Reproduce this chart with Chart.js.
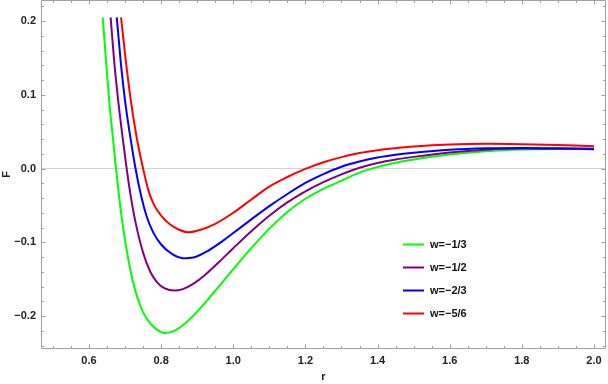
<!DOCTYPE html>
<html>
<head>
<meta charset="utf-8">
<script src="https://cdn.jsdelivr.net/npm/chart.js@4.4.1/dist/chart.umd.min.js"></script>
<style>
  html, body { margin: 0; padding: 0; background: #ffffff; }
  #wrap { width: 608px; height: 384px; }
</style>
</head>
<body>
<div id="wrap"><canvas id="c" width="608" height="384"></canvas></div>
<script>
// ---- data ----
const seriesLabels = ["w=\u22121/3", "w=\u22121/2", "w=\u22122/3", "w=\u22125/6"];
const seriesColors = ["#00ff00", "#800080", "#0000ff", "#ff0000"];

const rGreen = [0.638, 0.647, 0.656, 0.666, 0.675, 0.684, 0.694, 0.705, 0.718, 0.733, 0.750, 0.770, 0.790, 0.811, 0.830, 0.852, 0.875, 0.900, 0.930, 0.960, 1.000, 1.050, 1.100, 1.150, 1.200, 1.250, 1.300, 1.350, 1.400, 1.450, 1.500, 1.600, 1.700, 1.800, 1.900, 2.000];
const fGreen = [0.205, 0.148, 0.092, 0.043, 0.0, -0.040, -0.078, -0.112, -0.145, -0.173, -0.195, -0.210, -0.219, -0.223, -0.2215, -0.2155, -0.2063, -0.194, -0.1775, -0.160, -0.1365, -0.108, -0.0815, -0.059, -0.041, -0.0275, -0.0165, -0.0055, 0.002, 0.0078, 0.0123, 0.0190, 0.0235, 0.0258, 0.0265, 0.0262];

const rPurple = [0.660, 0.670, 0.681, 0.693, 0.7045, 0.716, 0.730, 0.750, 0.770, 0.790, 0.810, 0.836, 0.860, 0.890, 0.920, 0.960, 1.000, 1.050, 1.100, 1.150, 1.200, 1.250, 1.300, 1.350, 1.400, 1.450, 1.500, 1.600, 1.700, 1.800, 1.900, 2.000];
const fPurple = [0.205, 0.145, 0.092, 0.043, 0.0, -0.038, -0.075, -0.114, -0.140, -0.155, -0.1625, -0.1655, -0.1635, -0.156, -0.145, -0.127, -0.108, -0.085, -0.064, -0.046, -0.031, -0.0185, -0.008, 0.001, 0.0075, 0.0122, 0.0158, 0.0218, 0.0255, 0.0270, 0.0268, 0.0262];

const rBlue = [0.677, 0.688, 0.700, 0.714, 0.729, 0.745, 0.760, 0.778, 0.800, 0.830, 0.860, 0.890, 0.930, 0.970, 1.000, 1.050, 1.100, 1.150, 1.200, 1.250, 1.300, 1.350, 1.400, 1.450, 1.500, 1.600, 1.700, 1.800, 1.900, 2.000];
const fBlue = [0.205, 0.145, 0.092, 0.0445, 0.0, -0.038, -0.065, -0.0866, -0.103, -0.1158, -0.1215, -0.1205, -0.1115, -0.0985, -0.0875, -0.069, -0.051, -0.0345, -0.0195, -0.0075, 0.0025, 0.0095, 0.015, 0.0188, 0.0215, 0.0255, 0.0275, 0.0280, 0.0275, 0.0267];

const rRed = [0.689, 0.700, 0.716, 0.733, 0.750, 0.765, 0.780, 0.800, 0.825, 0.850, 0.875, 0.910, 0.950, 1.000, 1.050, 1.100, 1.150, 1.200, 1.250, 1.300, 1.350, 1.400, 1.450, 1.500, 1.600, 1.700, 1.800, 1.900, 2.000];
const fRed = [0.205, 0.155, 0.092, 0.040, 0.0, -0.030, -0.049, -0.064, -0.076, -0.083, -0.0864, -0.083, -0.075, -0.060, -0.042, -0.0245, -0.0115, -0.0005, 0.0085, 0.0155, 0.021, 0.0248, 0.0275, 0.0297, 0.0325, 0.0335, 0.0330, 0.0320, 0.0303];

const xTicks = [0.6, 0.8, 1.0, 1.2, 1.4, 1.6, 1.8, 2.0];
const xTickLabels = ["0.6", "0.8", "1.0", "1.2", "1.4", "1.6", "1.8", "2.0"];
const yTicks = [-0.2, -0.1, 0.0, 0.1, 0.2];
const yTickLabels = ["\u22120.2", "\u22120.1", "0.0", "0.1", "0.2"];

// ---- build datasets ----
const rArrays = [rGreen, rPurple, rBlue, rRed];
const fArrays = [fGreen, fPurple, fBlue, fRed];
const datasets = rArrays.map((rs, i) => ({
  label: seriesLabels[i],
  data: rs.map((r, j) => ({ x: r, y: fArrays[i][j] })),
  borderColor: seriesColors[i],
  backgroundColor: seriesColors[i],
  borderWidth: 2,
  pointRadius: 0,
  showLine: true,
  fill: false,
  cubicInterpolationMode: 'monotone',
  order: 4 - i
}));

const FONT = '"Liberation Sans", Arial, sans-serif';
const FRAME = '#a0a0a0';

const frameTicks = {
  id: 'frameTicks',
  afterDatasetsDraw(chart) {
    const { ctx, chartArea: a, scales: { x, y } } = chart;
    ctx.save();
    ctx.strokeStyle = FRAME;
    ctx.lineWidth = 1;
    const L = Math.round(a.left) + 0.5, R = Math.round(a.right) - 0.5;
    const T = Math.round(a.top) + 0.5, B = Math.round(a.bottom) - 0.5;
    ctx.beginPath();
    ctx.rect(L, T, R - L, B - T);
    ctx.stroke();
    ctx.beginPath();
    for (let k = 9; k <= 41; k++) {
      const v = k * 0.05;
      const px = Math.round(x.getPixelForValue(v)) + 0.5;
      if (px <= L || px >= R) continue;
      const len = (k % 4 === 0) ? 4 : 2.5;
      ctx.moveTo(px, B); ctx.lineTo(px, B - len);
      ctx.moveTo(px, T); ctx.lineTo(px, T + len);
    }
    for (let k = -12; k <= 12; k++) {
      const v = k * 0.02;
      const py = Math.round(y.getPixelForValue(v)) + 0.5;
      if (py <= T || py >= B) continue;
      const len = (k % 5 === 0) ? 4 : 2.5;
      ctx.moveTo(L, py); ctx.lineTo(L + len, py);
      ctx.moveTo(R, py); ctx.lineTo(R - len, py);
    }
    ctx.stroke();
    ctx.restore();
  }
};

const insideLegend = {
  id: 'insideLegend',
  afterDraw(chart) {
    const { ctx } = chart;
    ctx.save();
    ctx.font = 'bold 11px ' + FONT;
    ctx.textBaseline = 'middle';
    ctx.textAlign = 'left';
    chart.data.datasets.forEach((ds, i) => {
      const yy = 244.5 + i * 23;
      ctx.strokeStyle = ds.borderColor;
      ctx.lineWidth = 2;
      ctx.beginPath();
      ctx.moveTo(403, yy); ctx.lineTo(424, yy);
      ctx.stroke();
      ctx.fillStyle = '#111';
      ctx.fillText(ds.label, 430, yy + 0.5);
    });
    ctx.restore();
  }
};

new Chart(document.getElementById('c'), {
  type: 'scatter',
  data: { datasets },
  options: {
    responsive: false,
    animation: false,
    layout: { padding: { left: 0, right: 2, top: 0, bottom: 0 } },
    plugins: { legend: { display: false }, tooltip: { enabled: false } },
    scales: {
      x: {
        type: 'linear',
        min: 0.467, max: 2.0333,
        afterBuildTicks: s => { s.ticks = xTicks.map(v => ({ value: v })); },
        afterFit: s => { s.height = 35; s.paddingLeft = 0; s.paddingRight = 0; },
        grid: { display: false, drawTicks: false },
        border: { display: false },
        ticks: {
          padding: 5,
          color: '#222',
          font: { family: FONT, size: 11, weight: 'bold' },
          maxRotation: 0,
          callback: (v, i) => xTickLabels[i]
        },
        title: {
          display: true, text: 'r', color: '#222',
          font: { family: FONT, size: 11, weight: 'bold' },
          padding: { top: 2, bottom: 0 }
        }
      },
      y: {
        type: 'linear',
        min: -0.2447, max: 0.2285,
        afterBuildTicks: s => { s.ticks = yTicks.map(v => ({ value: v })); },
        afterFit: s => { s.width = 41; s.paddingTop = 0; s.paddingBottom = 0; },
        grid: {
          drawTicks: false,
          color: c => (c.tick && Math.abs(c.tick.value) < 1e-9) ? '#d2d2d2' : 'rgba(0,0,0,0)',
          lineWidth: 1
        },
        border: { display: false },
        ticks: {
          padding: 5,
          color: '#222',
          font: { family: FONT, size: 11, weight: 'bold' },
          callback: (v, i) => yTickLabels[i]
        },
        title: {
          display: true, text: 'F', color: '#222',
          font: { family: FONT, size: 11, weight: 'bold' },
          padding: { top: 0, bottom: 0 }
        }
      }
    }
  },
  plugins: [frameTicks, insideLegend]
});
</script>
</body>
</html>
